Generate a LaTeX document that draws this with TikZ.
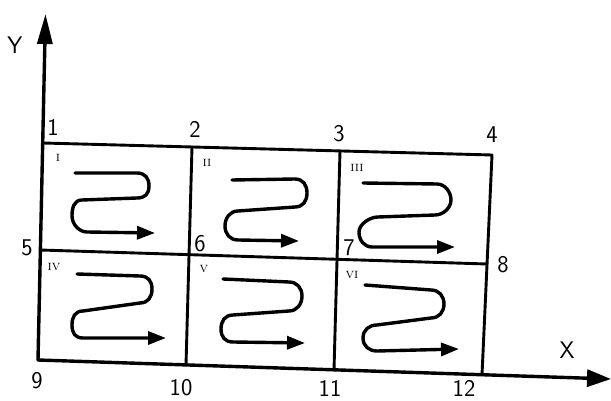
\documentclass[tikz,border=0pt]{standalone}
\usepackage{tikz}
\usetikzlibrary{arrows.meta}

% serpentine flow inside one cell
\newcommand{\serp}[8]{%
  \draw[flow] (#1) -- (#2) .. controls +(8,0) and +(0,-8) .. (#3)
    .. controls +(0,8) and +(8,0) .. (#4) -- (#5)
    .. controls +(-8,0) and +(0,-8) .. (#6)
    .. controls +(0,8) and +(-8,0) .. (#7) -- (#8);}

\begin{document}
\begin{tikzpicture}[x=1pt, y=-1pt, line cap=round, line join=round,
  grid/.style={line width=2.9pt},
  axis/.style={line width=3.4pt},
  flow/.style={line width=3.4pt, -{Triangle[length=18pt, width=13pt]}},
  num/.style={font=\fontsize{24}{24}\sffamily, inner sep=1pt},
  roman/.style={font=\fontsize{14}{14}\selectfont\scshape}]
  \useasboundingbox (0,0) rectangle (611,401);

  % Grid corners
  \coordinate (p1) at (43,143);
  \coordinate (p2) at (192,147);
  \coordinate (p3) at (340,151);
  \coordinate (p4) at (492,155);
  \coordinate (p5) at (40.5,250);
  \coordinate (p6) at (189,253);
  \coordinate (p7) at (338,258);
  \coordinate (p8) at (487,264);
  \coordinate (p9) at (38,360);
  \coordinate (p10) at (186,365);
  \coordinate (p11) at (334,370);
  \coordinate (p12) at (482,375);

  % Axes
  \coordinate (ytip) at (45.5,14);
  \coordinate (xtip) at (611,379);
  \draw[axis, -{Triangle[length=30pt, width=15pt]}] (p9) -- (ytip);
  \draw[axis, -{Triangle[length=24pt, width=17pt]}] (p9) -- (xtip);
  \node[num] (ly) at (15,45) {Y};
  \node[num] (lx) at (567,350) {X};

  % Grid lines
  \draw[grid] (p1) -- (p4) -- (p12);
  \draw[grid] (p5) -- (p8);
  \draw[grid] (p2) -- (p10);
  \draw[grid] (p3) -- (p11);

  % Corner numbers
  \node[num] (n1) at (53,127) {1};
  \node[num] (n2) at (195,129) {2};
  \node[num] (n3) at (339,134) {3};
  \node[num] (n4) at (492,135) {4};
  \node[num] (n5) at (27,248) {5};
  \node[num] (n6) at (200,244) {6};
  \node[num] (n7) at (349,248) {7};
  \node[num] (n8) at (503,265) {8};
  \node[num] (n9) at (37,381) {9};
  \node[num] (n10) at (181,388) {10};
  \node[num] (n11) at (330,388) {11};
  \node[num] (n12) at (464,388) {12};

  % Cell labels
  \node[roman] (c1) at (58,158) {i};
  \node[roman] (c2) at (207,163) {ii};
  \node[roman] (c3) at (357,168) {iii};
  \node[roman] (c4) at (54,267) {iv};
  \node[roman] (c5) at (204,269) {v};
  \node[roman] (c6) at (352,275) {vi};

  % Flow in each cell
  \serp{75,173}{137,173}{149,186}{137,198}{82,200}{72,216}{87,232}{155,233}
  \serp{232,180}{295,179}{307,193}{295,207}{238,211}{225,226}{238,240}{299,241}
  \serp{363,183}{437,184}{451,200}{435,215}{378,217}{359,232}{372,247}{455,247}
  \serp{77,274}{140,276}{152,289}{140,303}{83,311}{72,325}{83,338}{166,338}
  \serp{223,279}{289,282}{302,296}{289,311}{233,315}{221,329}{233,342}{305,343}
  \serp{365,285}{431,290}{444,304}{431,318}{377,325}{363,338}{377,351}{459,349}
\end{tikzpicture}
\end{document}
